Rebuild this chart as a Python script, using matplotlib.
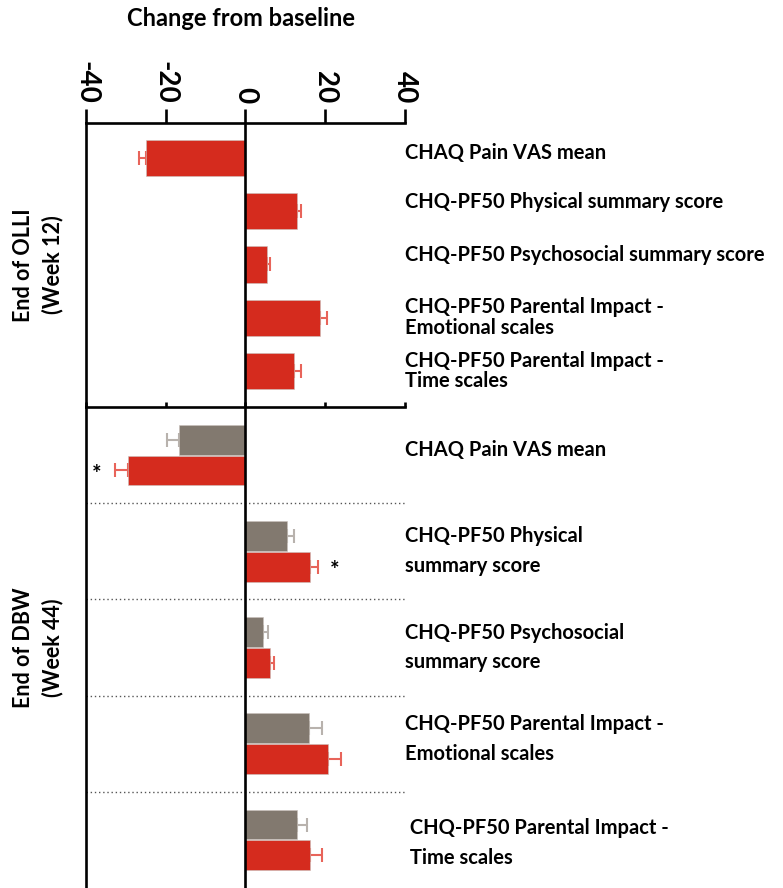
import numpy as np
import matplotlib
matplotlib.use("Agg")
import matplotlib.pyplot as plt

plt.rcParams['font.family'] = ['Lato', 'DejaVu Sans']

# End of OLLI (Week 12)
olli_labels = ["CHAQ Pain VAS mean",
               "CHQ-PF50 Physical summary score",
               "CHQ-PF50 Psychosocial summary score",
               "CHQ-PF50 Parental Impact -\nEmotional scales",
               "CHQ-PF50 Parental Impact -\nTime scales"]
olli_vals = [-25.0, 13.0, 5.5, 18.75, 12.25]
olli_err = [1.8, 0.8, 0.6, 1.75, 1.75]

# End of DBW (Week 44)
dbw_labels = ["CHAQ Pain VAS mean",
              "CHQ-PF50 Physical\nsummary score",
              "CHQ-PF50 Psychosocial\nsummary score",
              "CHQ-PF50 Parental Impact -\nEmotional scales",
              " CHQ-PF50 Parental Impact -\n Time scales"]
dbw_grey = [-16.75, 10.5, 4.5, 16.0, 13.0]
dbw_grey_err = [3.0, 1.75, 1.25, 3.25, 2.5]
dbw_red = [-29.5, 16.25, 6.25, 20.75, 16.25]
dbw_red_err = [3.25, 2.0, 1.0, 3.25, 3.0]
dbw_red_sig = [True, True, False, False, False]

xticks = [-40, -20, 0, 20, 40]

RED = "#d52b1e"
RED_ERR = "#e8645a"
GREY = "#82796f"
GREY_ERR = "#b8b2ad"
LW = 1.9
FS = 14.5

fig = plt.figure(figsize=(7.83, 8.88), dpi=100)
W, H = 783, 888
ax1 = fig.add_axes([86 / W, 1 - 407 / H, 319 / W, 284 / H])
ax2 = fig.add_axes([86 / W, 0, 319 / W, 481 / H])


def bars(ax, y, vals, errs, h, color, ecolor):
    vals = np.array(vals)
    errs = np.array(errs)
    lo = np.where(vals < 0, errs, 0)
    hi = np.where(vals < 0, 0, errs)
    ax.errorbar(vals, y, xerr=[lo, hi], fmt='none', ecolor=ecolor,
                elinewidth=1.5, capsize=5, capthick=1.5, zorder=1)
    ax.barh(y, vals, height=h, color=color, edgecolor='#c9c2bd',
            linewidth=0.4, zorder=2)


# top panel
y1 = np.arange(len(olli_vals))
bars(ax1, y1, olli_vals, olli_err, 0.68, RED, RED_ERR)
ax1.set_xlim(-40, 40)
ax1.set_ylim(4.676, -0.657)
ax1.axvline(0, color='black', lw=LW, zorder=3)
ax1.spines['right'].set_visible(False)
ax1.spines['bottom'].set_visible(False)
for s in ['top', 'left']:
    ax1.spines[s].set_linewidth(LW)
ax1.xaxis.set_ticks_position('top')
ax1.set_xticks(xticks)
ax1.set_xticklabels([str(t) for t in xticks], fontsize=20, fontweight='bold')
ax1.tick_params(axis='x', direction='out', length=10, width=LW, pad=4,
                labelrotation=270)
ax1.set_yticks([])
fig.text(241 / W, 1 - 18 / H, "Change from baseline", ha='center',
         va='center', fontsize=17, fontweight='bold')
label_y1 = [-0.1, -0.17, -0.17, 0.0, 0.0]
for i, lab in enumerate(olli_labels):
    ax1.text(1.0, y1[i] + label_y1[i], lab, transform=ax1.get_yaxis_transform(),
             ha='left', va='center', fontsize=FS, fontweight='bold',
             linespacing=1.05)
ax1.text(-0.15, 0.5, "End of OLLI\n(Week 12)", transform=ax1.transAxes,
         rotation=90, ha='center', va='center', fontsize=15.5,
         fontweight='bold', linespacing=1.45)

# bottom panel
y2 = np.arange(len(dbw_red))
bars(ax2, y2 - 0.16, dbw_grey, dbw_grey_err, 0.31, GREY, GREY_ERR)
bars(ax2, y2 + 0.16, dbw_red, dbw_red_err, 0.31, RED, RED_ERR)
ax2.set_xlim(-40, 40)
ax2.set_ylim(4.5, -0.5)
ax2.axvline(0, color='black', lw=LW, zorder=3)
for i in range(len(y2) - 1):
    ax2.axhline(i + 0.5, color='#555555', lw=1.0, ls=(0, (1, 2)), zorder=0)
for s in ['right', 'bottom']:
    ax2.spines[s].set_visible(False)
for s in ['top', 'left']:
    ax2.spines[s].set_linewidth(LW)
ax2.xaxis.set_ticks_position('top')
ax2.set_xticks(xticks)
ax2.tick_params(axis='x', direction='out', length=3.5, width=LW,
                labeltop=False)
ax2.set_yticks([])
for i, sig in enumerate(dbw_red_sig):
    if sig:
        v = dbw_red[i]
        end = v - dbw_red_err[i] if v < 0 else v + dbw_red_err[i]
        off = -4.5 if v < 0 else 4.0
        ax2.text(end + off, y2[i] + 0.2, "*", ha='center', va='center',
                 fontsize=16, fontweight='bold')
label_y2 = [-0.05, 0.0, 0.0, -0.05, 0.03]
for i, lab in enumerate(dbw_labels):
    ax2.text(1.0, y2[i] + label_y2[i], lab, transform=ax2.get_yaxis_transform(),
             ha='left', va='center', fontsize=FS, fontweight='bold',
             linespacing=1.6)
ax2.text(-0.15, 0.5, "End of DBW\n(Week 44)", transform=ax2.transAxes,
         rotation=90, ha='center', va='center', fontsize=15.5,
         fontweight='bold', linespacing=1.45)

fig.savefig("out.png", dpi=100)
